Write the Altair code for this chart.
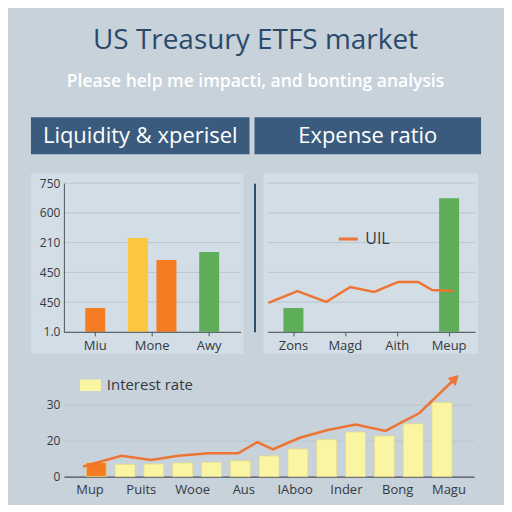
import altair as alt
import pandas as pd

# ---------------- data ----------------
title_text = "US Treasury ETFS market"
subtitle_text = "Please help me impacti, and bonting analysis"
left_header = "Liquidity & xperisel"
right_header = "Expense ratio"

left_categories = ["Miu", "Mone", "Awy"]
left_bar_category = ["Miu", "Mone", "Mone", "Awy"]
left_bar_series = ["Liquidity", "Spread", "Liquidity", "Volume"]
left_bar_values = [120, 473, 362, 403]
y_tick_values = [0, 150, 300, 450, 600, 750]
left_y_labels = ["1.0", "450", "450", "210", "600", "750"]

right_categories = ["Zons", "Magd", "Aith", "Meup"]
right_bar_category = ["Zons", "Meup"]
right_bar_values = [120, 674]
right_line_t = [0.04, 1.3, 2.55, 3.59, 4.63, 5.67, 6.53, 7.14, 8.05]
right_line_values = [146, 206, 151, 226, 201, 252, 252, 211, 206]
right_line_name = "UIL"

bottom_periods = list(range(13))
bottom_bar_values = [3.9, 3.4, 3.5, 3.8, 4.0, 4.4, 5.75, 7.7, 10.3, 12.4, 11.3, 14.7, 20.6]
bottom_bar_series = ["Current"] + ["Interest rate"] * 12
bottom_line_t = [-0.3, 1.0, 2.0, 2.93, 3.94, 4.95, 5.6, 6.13, 7.04, 7.99, 8.93, 9.94, 11.09, 12.3]
bottom_line_values = [2.8, 5.8, 4.6, 5.8, 6.5, 6.5, 9.6, 7.6, 10.8, 12.97, 14.5, 12.7, 17.7, 27.3]
bottom_x_labels = ["Mup", "Puits", "Wooe", "Aus", "IAboo", "Inder", "Bong", "Magu"]
bottom_y_ticks = [0, 10, 20]
bottom_y_labels = ["0", "20", "30"]

# ---------------- style ----------------
FONT = "Open Sans"
BG = "#c7d2db"
PANEL = "#d3dde5"
GRID = "#b9c5cf"
HEADER = "#3a5b7e"
TITLE = "#2b4a6b"
TEXT = "#34393f"
DOMAIN = "#4d545b"
ORANGE = "#f47b20"
YELLOW = "#fcc73e"
GREEN = "#5dad59"
LINE_ORANGE = "#ee7434"
PALE = "#faf5a2"
PALE_STROKE = "#e3da8a"

W_L, H_T = 177, 149
W_R = 208
W_B, H_B = 411, 104


def label_expr(values, labels):
    vals = "[" + ",".join(str(v) for v in values) + "]"
    labs = "[" + ",".join("'" + l + "'" for l in labels) + "]"
    return labs + "[indexof(" + vals + ", datum.value)]"


one = pd.DataFrame({"k": [0]})


def deco_rect(x, x2, y, y2, color):
    return alt.Chart(one).mark_rect(color=color).encode(
        x=alt.value(x), x2=alt.value(x2), y=alt.value(y), y2=alt.value(y2))


def deco_text(text, x, y, size, color):
    return alt.Chart(one).mark_text(
        text=text, fontSize=size, color=color, font=FONT, align="center", baseline="middle"
    ).encode(x=alt.value(x), y=alt.value(y))


# ---------------- left panel ----------------
y_scale_t = alt.Scale(domain=[0, 750], nice=False)
y_axis_left = alt.Axis(values=y_tick_values, labelExpr=label_expr(y_tick_values, left_y_labels),
                       grid=False, ticks=False, domain=True, domainColor=DOMAIN, labelFont=FONT,
                       labelFontSize=12, labelColor=TEXT, labelPadding=4, title=None, zindex=1)
x_axis_left = alt.Axis(title=None, labelAngle=0, labelFont=FONT, labelFontSize=13, labelColor=TEXT,
                       ticks=True, tickSize=4, tickColor=DOMAIN, domainColor=DOMAIN, labelPadding=4,
                       grid=False, zindex=1)
x_scale_left = alt.Scale(domain=left_categories, paddingInner=0, paddingOuter=0.05)
left_color = alt.Color("ls:N", scale=alt.Scale(domain=["Liquidity", "Spread", "Volume"],
                                               range=[ORANGE, YELLOW, GREEN]), legend=None)

grid_df = pd.DataFrame({"v": y_tick_values})
left_df = pd.DataFrame({"cat": left_bar_category, "ls": left_bar_series, "v": left_bar_values})

left_grid = alt.Chart(grid_df).mark_rule(color=GRID, strokeWidth=1).encode(
    y=alt.Y("v:Q", scale=y_scale_t, axis=y_axis_left), x=alt.value(0), x2=alt.value(W_L))
left_single = alt.Chart(left_df).transform_filter("datum.cat != 'Mone'").mark_bar(width=20).encode(
    x=alt.X("cat:N", scale=x_scale_left, axis=x_axis_left, sort=left_categories),
    y=alt.Y("v:Q", scale=y_scale_t, axis=y_axis_left),
    color=left_color)
left_pair = alt.Chart(left_df).transform_filter("datum.cat == 'Mone'").mark_bar(width=20).encode(
    x=alt.X("cat:N", scale=x_scale_left, axis=x_axis_left, sort=left_categories),
    xOffset=alt.XOffset("ls:N", scale=alt.Scale(domain=["Spread", "Liquidity"], paddingInner=0, paddingOuter=0)),
    y=alt.Y("v:Q", scale=y_scale_t, axis=y_axis_left),
    color=left_color)

left = alt.layer(
    deco_rect(-33, 186, -66, -29, HEADER),
    deco_text(left_header, 76.5, -47.5, 22, "white"),
    deco_rect(-33, 180, -10, 171, PANEL),
    left_grid, left_single, left_pair,
).properties(width=W_L, height=H_T)

# ---------------- right panel ----------------
y_axis_right = alt.Axis(values=y_tick_values, labels=False, ticks=False, grid=False, domain=True,
                        domainColor="#2f4d6e", domainWidth=2, offset=13, title=None)
x_axis_right = alt.Axis(title=None, labelAngle=0, labelFont=FONT, labelFontSize=13, labelColor=TEXT,
                        ticks=True, tickSize=4, tickColor=DOMAIN, domainColor=DOMAIN, labelPadding=4,
                        grid=False, zindex=1)
right_bar_df = pd.DataFrame({"cat": right_bar_category, "v": right_bar_values})
right_line_df = pd.DataFrame({"t": right_line_t, "v": right_line_values,
                              "rs": [right_line_name] * len(right_line_t)})

right_grid = alt.Chart(grid_df).mark_rule(color=GRID, strokeWidth=1).encode(
    y=alt.Y("v:Q", scale=y_scale_t, axis=y_axis_right), x=alt.value(0), x2=alt.value(W_R))
right_bars = alt.Chart(right_bar_df).mark_bar(width=20, color=GREEN).encode(
    x=alt.X("cat:N", scale=alt.Scale(domain=right_categories, paddingInner=0, paddingOuter=0),
            axis=x_axis_right, sort=right_categories),
    y=alt.Y("v:Q", scale=y_scale_t, axis=y_axis_right))
right_line = alt.Chart(right_line_df).mark_line(strokeWidth=2.5).encode(
    x=alt.X("t:Q", scale=alt.Scale(domain=[0, 9], nice=False, zero=False), axis=None),
    y=alt.Y("v:Q", scale=y_scale_t, axis=y_axis_right),
    color=alt.Color("rs:N", scale=alt.Scale(domain=[right_line_name], range=[LINE_ORANGE]),
                    legend=alt.Legend(orient="none", legendX=70, legendY=45, title=None,
                                      symbolType="stroke", symbolSize=361, symbolStrokeWidth=3,
                                      labelFont=FONT, labelFontSize=16, labelColor=TEXT,
                                      labelOffset=6, padding=0)))

right = alt.layer(
    deco_rect(-13, 214, -66, -29, HEADER),
    deco_text(right_header, 100.5, -47.5, 22, "white"),
    deco_rect(-4, 211, -10, 171, PANEL),
    right_grid, right_bars, right_line,
).resolve_scale(x="independent").properties(width=W_R, height=H_T)

# ---------------- bottom panel ----------------
xq = alt.Scale(domain=[-0.95, 12.94], nice=False, zero=False)
yb_scale = alt.Scale(domain=[0, 28.9], nice=False)
yb_axis = alt.Axis(values=bottom_y_ticks, labelExpr=label_expr(bottom_y_ticks, bottom_y_labels),
                   grid=True, gridColor=GRID, domain=False, ticks=False, labelPadding=4, minExtent=34,
                   title=None, labelFont=FONT, labelFontSize=12, labelColor=TEXT)

bars_df = pd.DataFrame({"t": bottom_periods, "v": bottom_bar_values, "bs": bottom_bar_series})
line_df = pd.DataFrame({"t": bottom_line_t, "v": bottom_line_values})
arrow_df = line_df.tail(1)
labels_df = pd.DataFrame({"lab": bottom_x_labels})

b_bars = alt.Chart(bars_df).mark_bar(size=20, stroke=PALE_STROKE, strokeWidth=0.8).encode(
    x=alt.X("t:Q", scale=xq, axis=None),
    y=alt.Y("v:Q", scale=yb_scale, axis=yb_axis),
    color=alt.Color("bs:N", scale=alt.Scale(domain=["Current", "Interest rate"], range=[ORANGE, PALE]),
                    legend=alt.Legend(orient="none", legendX=16, legendY=2, title=None,
                                      values=["Interest rate"],
                                      symbolType="M-1,-0.55L1,-0.55L1,0.55L-1,0.55Z", symbolSize=441,
                                      symbolStrokeWidth=0, symbolFillColor=YELLOW,
                                      labelFont=FONT, labelFontSize=15, labelColor=TEXT,
                                      labelOffset=6, padding=0)))
b_line = alt.Chart(line_df).mark_line(color=LINE_ORANGE, strokeWidth=2.5).encode(
    x=alt.X("t:Q", scale=xq, axis=None),
    y=alt.Y("v:Q", scale=yb_scale, axis=yb_axis))
b_arrow = alt.Chart(arrow_df).mark_point(shape="triangle-up", filled=True, size=130, angle=45,
                                         color=LINE_ORANGE, opacity=1).encode(
    x=alt.X("t:Q", scale=xq, axis=None),
    y=alt.Y("v:Q", scale=yb_scale, axis=yb_axis))
b_labels = alt.Chart(labels_df).mark_point(opacity=0).encode(
    x=alt.X("lab:N", sort=bottom_x_labels,
            scale=alt.Scale(domain=bottom_x_labels, paddingInner=0, paddingOuter=0.05),
            axis=alt.Axis(title=None, labelAngle=0, ticks=False, domainColor=DOMAIN, domainWidth=1.2,
                          labelFont=FONT, labelFontSize=13, labelColor=TEXT, labelPadding=7)))

bottom = alt.layer(b_bars, b_line, b_arrow, b_labels).resolve_scale(x="independent").properties(
    width=W_B, height=H_B)

# ---------------- assemble ----------------
top_row = alt.hconcat(left, right, spacing=5).resolve_scale(color="independent")
chart = alt.vconcat(top_row, bottom, spacing=19).resolve_scale(color="independent").properties(
    title=alt.TitleParams(text=title_text, subtitle=subtitle_text, anchor="middle", font=FONT,
                          fontSize=28, fontWeight="normal", color=TITLE,
                          subtitleFont=FONT, subtitleFontSize=17.5, subtitleFontWeight=600,
                          subtitleColor="white", subtitlePadding=18, offset=27),
    background=BG,
    padding={"left": 22, "top": 18, "right": 23, "bottom": 8},
).configure_view(stroke=None)

chart.save("out.html", embed_options={"renderer": "svg", "actions": False})
